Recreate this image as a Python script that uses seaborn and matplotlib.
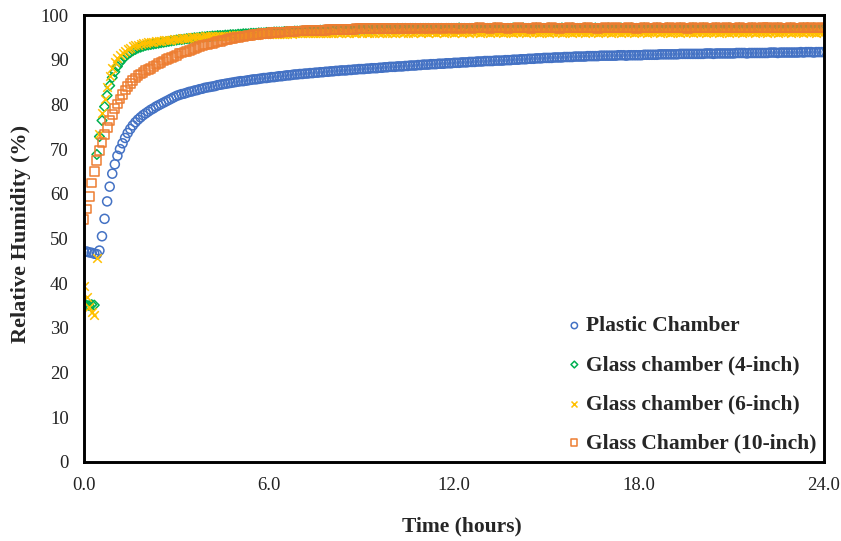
import numpy as np
import pandas as pd
import matplotlib
matplotlib.use("Agg")
import matplotlib.pyplot as plt
from matplotlib.ticker import FormatStrFormatter
import seaborn as sns

# ---------------- data (5-minute readings over 24 h) ----------------
minutes = list(range(0, 1441, 5))

plastic = [
    47.0, 47.1, 46.9, 46.8, 46.6, 46.5, 47.3, 50.5, 54.4, 58.3, 61.6, 64.5, 66.6,
    68.5, 70.0, 71.3, 72.5, 73.6, 74.5, 75.3, 76.0, 76.6, 77.1, 77.6, 78.0,
    78.4, 78.8, 79.1, 79.5, 79.8, 80.1, 80.4, 80.7, 81.0, 81.3, 81.6, 81.9,
    82.1, 82.3, 82.4, 82.6, 82.8, 82.9, 83.1, 83.2, 83.4, 83.5, 83.7, 83.8,
    83.9, 84.0, 84.1, 84.3, 84.4, 84.5, 84.6, 84.7, 84.8, 84.9, 85.0, 85.1,
    85.2, 85.2, 85.3, 85.4, 85.5, 85.6, 85.6, 85.7, 85.8, 85.9, 85.9, 86.0,
    86.1, 86.1, 86.2, 86.3, 86.3, 86.4, 86.5, 86.5, 86.6, 86.7, 86.7, 86.8,
    86.8, 86.9, 86.9, 87.0, 87.0, 87.1, 87.1, 87.2, 87.2, 87.3, 87.3, 87.4,
    87.4, 87.5, 87.5, 87.6, 87.6, 87.6, 87.7, 87.7, 87.8, 87.8, 87.9, 87.9,
    87.9, 88.0, 88.0, 88.1, 88.1, 88.1, 88.2, 88.2, 88.3, 88.3, 88.4, 88.4,
    88.4, 88.5, 88.5, 88.5, 88.6, 88.6, 88.7, 88.7, 88.7, 88.8, 88.8, 88.9,
    88.9, 88.9, 89.0, 89.0, 89.0, 89.1, 89.1, 89.1, 89.2, 89.2, 89.2, 89.3,
    89.3, 89.3, 89.4, 89.4, 89.4, 89.5, 89.5, 89.5, 89.6, 89.6, 89.6, 89.7,
    89.7, 89.7, 89.7, 89.8, 89.8, 89.8, 89.8, 89.9, 89.9, 89.9, 90.0, 90.0,
    90.0, 90.1, 90.1, 90.1, 90.2, 90.2, 90.2, 90.3, 90.3, 90.3, 90.4, 90.4,
    90.4, 90.4, 90.5, 90.5, 90.5, 90.5, 90.6, 90.6, 90.6, 90.6, 90.7, 90.7,
    90.7, 90.7, 90.7, 90.8, 90.8, 90.8, 90.8, 90.8, 90.9, 90.9, 90.9, 90.9,
    90.9, 90.9, 90.9, 91.0, 91.0, 91.0, 90.9, 91.0, 91.0, 91.0, 91.0, 91.0,
    91.0, 91.1, 91.1, 91.1, 91.1, 91.1, 91.1, 91.2, 91.2, 91.2, 91.2, 91.2,
    91.2, 91.2, 91.2, 91.3, 91.3, 91.3, 91.3, 91.3, 91.3, 91.3, 91.3, 91.3,
    91.3, 91.4, 91.4, 91.4, 91.3, 91.4, 91.4, 91.4, 91.4, 91.4, 91.4, 91.4,
    91.4, 91.5, 91.5, 91.5, 91.5, 91.4, 91.5, 91.5, 91.5, 91.5, 91.5, 91.5,
    91.5, 91.5, 91.6, 91.6, 91.6, 91.5, 91.6, 91.6, 91.6, 91.6, 91.6, 91.6,
    91.6, 91.6, 91.7, 91.6, 91.7, 91.7, 91.7, 91.6, 91.7, 91.7, 91.7, 91.7,
]

glass_4in = [
    35.3, 35.1, 35.0, 35.2, 35.1, 68.8, 72.8, 76.4, 79.5, 82.0, 84.2, 86.0, 87.3,
    88.5, 89.4, 90.1, 90.7, 91.2, 91.6, 92.0, 92.3, 92.6, 92.8, 93.0, 93.2,
    93.3, 93.4, 93.5, 93.6, 93.7, 93.8, 93.9, 94.0, 94.1, 94.2, 94.3, 94.4,
    94.5, 94.5, 94.6, 94.7, 94.7, 94.8, 94.9, 94.9, 95.0, 95.1, 95.1, 95.2,
    95.2, 95.3, 95.3, 95.4, 95.4, 95.4, 95.5, 95.5, 95.6, 95.6, 95.6, 95.7,
    95.7, 95.8, 95.8, 95.8, 95.9, 95.9, 95.9, 96.0, 96.0, 96.0, 96.1, 96.1,
    96.1, 96.2, 96.2, 96.2, 96.2, 96.3, 96.3, 96.3, 96.3, 96.4, 96.4, 96.4,
    96.4, 96.4, 96.5, 96.5, 96.5, 96.5, 96.5, 96.6, 96.6, 96.6, 96.6, 96.6,
    96.6, 96.7, 96.7, 96.7, 96.7, 96.7, 96.7, 96.8, 96.8, 96.8, 96.8, 96.8,
    96.8, 96.8, 96.9, 96.8, 96.9, 96.9, 96.9, 96.9, 96.9, 96.9, 96.9, 96.9,
    96.9, 97.0, 96.9, 97.0, 97.0, 96.9, 97.0, 97.0, 97.0, 96.9, 97.0, 97.0,
    97.0, 97.0, 96.9, 97.0, 97.0, 97.0, 97.0, 96.9, 97.0, 97.0, 97.0, 97.0,
    97.0, 97.1, 97.0, 97.0, 96.9, 97.0, 97.0, 97.0, 97.1, 97.0, 97.0, 97.0,
    97.0, 97.0, 97.0, 97.1, 97.0, 97.0, 97.0, 96.9, 97.0, 97.0, 97.1, 97.0,
    97.0, 97.0, 97.1, 97.0, 97.0, 97.0, 97.0, 97.1, 97.0, 97.0, 97.0, 97.0,
    97.1, 97.0, 97.0, 97.0, 97.0, 97.1, 97.0, 97.0, 97.0, 97.1, 97.0, 97.0,
    97.0, 97.0, 97.1, 97.0, 97.0, 97.0, 97.1, 97.0, 97.0, 97.0, 97.0, 97.1,
    97.0, 97.0, 97.0, 97.0, 97.1, 97.0, 97.0, 97.0, 97.1, 97.0, 97.0, 97.0,
    97.0, 97.1, 97.0, 97.0, 97.0, 97.0, 97.1, 97.0, 97.0, 97.0, 97.1, 97.0,
    97.0, 97.0, 97.0, 97.1, 97.0, 97.0, 97.0, 97.0, 97.1, 97.0, 97.0, 97.0,
    97.1, 97.0, 97.0, 97.0, 97.0, 97.1, 97.0, 97.0, 97.0, 97.0, 97.1, 97.0,
    97.0, 97.0, 97.1, 97.0, 97.0, 97.0, 97.0, 97.1, 97.0, 97.0, 97.0, 97.0,
    97.0, 97.1, 97.0, 97.0, 97.0, 97.1, 97.0, 97.0, 97.0, 97.0, 97.1, 97.0,
    97.0, 97.0, 97.0, 97.1, 97.0, 97.0, 97.0, 97.1, 97.0, 97.0, 97.0, 97.0,
]

glass_6in = [
    39.3, 36.9, 34.6, 33.5, 32.9, 45.6, 73.4, 78.0, 81.2, 84.0, 86.3, 88.2, 89.4,
    90.3, 91.0, 91.6, 92.0, 92.4, 92.7, 93.0, 93.2, 93.4, 93.6, 93.7, 93.8,
    93.9, 94.0, 94.0, 94.1, 94.2, 94.2, 94.3, 94.4, 94.4, 94.5, 94.6, 94.7,
    94.7, 94.8, 94.8, 94.9, 94.9, 95.0, 95.0, 95.0, 95.1, 95.1, 95.2, 95.2,
    95.2, 95.3, 95.3, 95.3, 95.3, 95.4, 95.4, 95.4, 95.4, 95.5, 95.5, 95.5,
    95.5, 95.5, 95.6, 95.6, 95.6, 95.6, 95.6, 95.7, 95.7, 95.7, 95.7, 95.7,
    95.7, 95.8, 95.8, 95.8, 95.7, 95.8, 95.8, 95.9, 95.8, 95.9, 95.9, 95.9,
    95.9, 95.9, 95.9, 96.0, 95.9, 96.0, 96.0, 95.9, 96.0, 96.0, 96.0, 96.0,
    96.0, 96.1, 95.9, 96.0, 96.1, 96.0, 96.0, 96.1, 95.9, 96.0, 96.1, 96.0,
    96.1, 96.0, 96.0, 96.2, 96.0, 96.1, 96.0, 95.9, 96.1, 96.0, 96.1, 96.0,
    96.0, 96.1, 96.2, 96.0, 96.1, 96.0, 96.1, 96.0, 96.2, 96.1, 96.0, 96.1,
    96.1, 96.0, 96.1, 96.2, 96.0, 96.1, 96.1, 96.0, 96.1, 96.2, 96.1, 96.0,
    96.1, 96.2, 96.0, 96.1, 96.1, 96.0, 96.2, 96.1, 96.1, 96.0, 96.1, 96.2,
    96.1, 96.0, 96.1, 96.2, 96.1, 96.1, 96.0, 96.1, 96.2, 96.1, 96.0, 96.1,
    96.2, 96.1, 96.1, 96.0, 96.1, 96.2, 96.1, 96.1, 96.0, 96.2, 96.1, 96.1,
    96.0, 96.1, 96.2, 96.1, 96.1, 96.0, 96.1, 96.2, 96.1, 96.0, 96.1, 96.1,
    96.2, 96.1, 96.0, 96.1, 96.1, 96.2, 96.1, 96.0, 96.1, 96.2, 96.1, 96.1,
    96.0, 96.1, 96.2, 96.1, 96.0, 96.1, 96.1, 96.2, 96.1, 96.0, 96.1, 96.2,
    96.1, 96.1, 96.0, 96.1, 96.2, 96.1, 96.1, 96.0, 96.2, 96.1, 96.1, 96.0,
    96.1, 96.2, 96.1, 96.0, 96.1, 96.1, 96.2, 96.1, 96.0, 96.1, 96.2, 96.1,
    96.1, 96.0, 96.1, 96.2, 96.1, 96.1, 96.0, 96.1, 96.2, 96.1, 96.0, 96.1,
    96.2, 96.1, 96.1, 96.0, 96.1, 96.2, 96.1, 96.1, 96.0, 96.1, 96.2, 96.1,
    96.1, 96.0, 96.1, 96.2, 96.1, 96.0, 96.1, 96.1, 96.2, 96.1, 96.0, 96.1,
    96.1, 96.2, 96.1, 96.0, 96.1, 96.1, 96.2, 96.1, 96.0, 96.1, 96.1, 96.2,
]

glass_10in = [
    54.3, 56.6, 59.4, 62.4, 65.0, 67.4, 69.6, 71.4, 73.2, 74.9, 76.4, 77.8, 79.0,
    80.1, 81.2, 82.3, 83.2, 84.0, 84.7, 85.3, 85.9, 86.4, 86.8, 87.2, 87.5,
    87.8, 88.1, 88.5, 88.8, 89.1, 89.4, 89.7, 90.0, 90.3, 90.5, 90.8, 91.0,
    91.3, 91.5, 91.7, 91.9, 92.1, 92.3, 92.5, 92.7, 92.9, 93.1, 93.3, 93.4,
    93.5, 93.7, 93.8, 94.0, 94.1, 94.3, 94.4, 94.5, 94.7, 94.8, 94.9, 95.0,
    95.1, 95.2, 95.3, 95.4, 95.5, 95.6, 95.6, 95.7, 95.8, 95.8, 95.9, 95.9,
    96.0, 96.0, 96.1, 96.1, 96.2, 96.2, 96.2, 96.3, 96.3, 96.3, 96.4, 96.4,
    96.4, 96.5, 96.5, 96.5, 96.5, 96.6, 96.6, 96.6, 96.6, 96.6, 96.7, 96.7,
    96.7, 96.7, 96.7, 96.8, 96.8, 96.8, 96.8, 96.8, 96.8, 96.9, 96.9, 96.9,
    96.9, 96.9, 96.9, 96.9, 97.0, 97.0, 97.0, 97.0, 97.0, 97.0, 97.0, 97.0,
    97.0, 97.0, 97.1, 97.0, 97.0, 97.1, 97.0, 97.1, 97.0, 97.1, 97.1, 97.0,
    97.1, 97.0, 97.1, 97.1, 97.0, 97.1, 97.1, 97.0, 97.1, 97.1, 97.1, 97.0,
    97.1, 97.1, 97.0, 97.1, 97.1, 97.1, 97.0, 97.1, 97.1, 97.2, 97.1, 97.1,
    97.1, 97.0, 97.1, 97.1, 97.2, 97.1, 97.1, 97.1, 97.0, 97.1, 97.1, 97.1,
    97.2, 97.1, 97.1, 97.1, 97.1, 97.0, 97.1, 97.2, 97.1, 97.1, 97.1, 97.1,
    97.1, 97.2, 97.1, 97.1, 97.0, 97.1, 97.1, 97.1, 97.2, 97.1, 97.1, 97.1,
    97.1, 97.1, 97.1, 97.2, 97.1, 97.1, 97.1, 97.0, 97.1, 97.1, 97.2, 97.1,
    97.1, 97.1, 97.2, 97.1, 97.1, 97.1, 97.1, 97.2, 97.1, 97.1, 97.0, 97.1,
    97.1, 97.2, 97.1, 97.1, 97.1, 97.1, 97.2, 97.1, 97.1, 97.1, 97.1, 97.2,
    97.1, 97.1, 97.1, 97.2, 97.1, 97.1, 97.0, 97.1, 97.2, 97.1, 97.1, 97.1,
    97.2, 97.1, 97.1, 97.1, 97.1, 97.2, 97.1, 97.1, 97.1, 97.2, 97.1, 97.1,
    97.1, 97.1, 97.2, 97.1, 97.1, 97.1, 97.1, 97.2, 97.1, 97.1, 97.1, 97.2,
    97.1, 97.2, 97.1, 97.1, 97.1, 97.2, 97.1, 97.1, 97.1, 97.1, 97.2, 97.1,
    97.1, 97.1, 97.1, 97.2, 97.1, 97.1, 97.2, 97.1, 97.1, 97.1, 97.2, 97.1,
]

series_names = ["Plastic Chamber", "Glass chamber (4-inch)",
                "Glass chamber (6-inch)", "Glass Chamber (10-inch)"]
x_ticks = [0, 6, 12, 18, 24]
y_ticks = list(range(0, 101, 10))

# ---------------- tidy table ----------------
time_h = np.array(minutes) / 60.0
frames = []
for name, vals in zip(series_names, [plastic, glass_4in, glass_6in, glass_10in]):
    n = min(len(vals), len(time_h))
    frames.append(pd.DataFrame({"Time": time_h[:n], "RH": vals[:n], "Series": name}))
df = pd.concat(frames, ignore_index=True)

# ---------------- style ----------------
sns.set_style("white")
plt.rcParams["font.family"] = ["Liberation Serif", "DejaVu Serif"]

fig = plt.figure(figsize=(8.41, 5.41), dpi=100)
ax = fig.add_axes([84 / 841, 1 - 462 / 541, 740 / 841, 447 / 541])

styles = {
    "Plastic Chamber": dict(marker="o", color="#4472C4", s=42, open=True),
    "Glass chamber (4-inch)": dict(marker="D", color="#00B050", s=24, open=True),
    "Glass chamber (6-inch)": dict(marker="x", color="#FFC000", s=38, open=False),
    "Glass Chamber (10-inch)": dict(marker="s", color="#ED7D31", s=40, open=True),
}

for name in series_names:
    st = styles[name]
    sub = df[df["Series"] == name]
    if st["open"]:
        sns.scatterplot(data=sub, x="Time", y="RH", ax=ax, marker=st["marker"],
                        s=st["s"], facecolor="none", edgecolor=st["color"],
                        linewidth=1.1, label=name, legend=False)
    else:
        sns.scatterplot(data=sub, x="Time", y="RH", ax=ax, marker=st["marker"],
                        s=st["s"], color=st["color"], linewidth=1.1,
                        label=name, legend=False)

ax.set_xlim(0, 24)
ax.set_ylim(0, 100)
ax.set_xticks(x_ticks)
ax.set_yticks(y_ticks)
ax.xaxis.set_major_formatter(FormatStrFormatter("%.1f"))
ax.tick_params(axis="both", length=0, labelsize=13.5, colors="#222222")
ax.tick_params(axis="x", pad=11)
ax.tick_params(axis="y", pad=11)

for sp in ax.spines.values():
    sp.set_visible(True)
    sp.set_color("black")
    sp.set_linewidth(2.1)

ax.set_xlabel("Time (hours)", fontsize=15.5, fontweight="bold")
ax.set_ylabel("Relative Humidity (%)", fontsize=16, fontweight="bold")
ax.xaxis.set_label_coords(0.51, -0.123)
ax.yaxis.set_label_coords(-0.072, 0.51)

leg = ax.legend(loc="lower left", bbox_to_anchor=(0.651, 0.01), frameon=False,
                prop={"weight": "bold", "size": 15.5},
                markerscale=0.7, handlelength=0.4, handletextpad=0.35,
                labelspacing=0.88, borderpad=0.2, borderaxespad=0)

fig.savefig("out.png", dpi=100)
